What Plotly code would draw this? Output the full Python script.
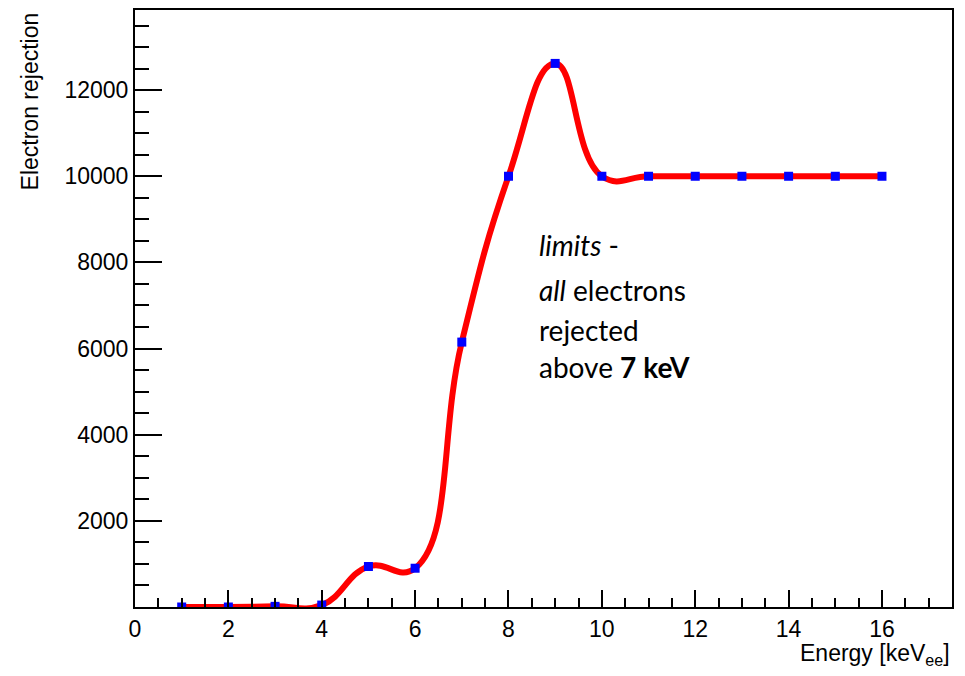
import plotly.graph_objects as go

energy = [1, 2, 3, 4, 5, 6, 7, 8, 9, 10, 11, 12, 13, 14, 15, 16]
rejection = [0, 0, 15, 45, 940, 900, 6150, 10000, 12620, 10000, 10000, 10000, 10000, 10000, 10000, 10000]

x_range = [0, 17.5]
y_range = [0, 13860]
x_ticks = [0, 2, 4, 6, 8, 10, 12, 14, 16]
y_ticks = [2000, 4000, 6000, 8000, 10000, 12000]

note_lines = ["<i>limits</i> -", "<i>all</i> electrons", "rejected", "above <b>7 keV</b>"]
note_y = [8400, 7370, 6430, 5580]

font_axis = "Liberation Sans, Arial, Helvetica, sans-serif"

fig = go.Figure()
fig.add_trace(go.Scatter(
    x=energy, y=rejection, mode="lines",
    line=dict(color="#ff0000", width=6, shape="spline", smoothing=1.3),
    showlegend=False, hoverinfo="skip"))
fig.add_trace(go.Scatter(
    x=energy, y=rejection, mode="markers",
    marker=dict(color="#0000ff", size=9, symbol="square"),
    showlegend=False))

fig.update_layout(
    width=965, height=676,
    margin=dict(l=135, r=13, t=8, b=69),
    paper_bgcolor="white", plot_bgcolor="white",
    font=dict(family=font_axis, size=23, color="black"),
)
fig.update_xaxes(
    range=x_range, tickvals=x_ticks, ticktext=[str(v) for v in x_ticks],
    ticks="inside", ticklen=17, tickwidth=1.5, tickcolor="black",
    minor=dict(dtick=0.5, tick0=0, ticks="inside", ticklen=9, tickwidth=1.5, tickcolor="black"),
    showline=True, linecolor="black", linewidth=2, mirror=True,
    showgrid=False, zeroline=False, tickfont=dict(size=23),
)
fig.update_yaxes(
    range=y_range, tickvals=y_ticks, ticktext=[str(v) for v in y_ticks],
    ticks="inside", ticklen=27, tickwidth=1.5, tickcolor="black",
    minor=dict(dtick=500, tick0=0, ticks="inside", ticklen=14, tickwidth=1.5, tickcolor="black"),
    showline=True, linecolor="black", linewidth=2, mirror=True,
    showgrid=False, zeroline=False, tickfont=dict(size=23),
)

fig.add_annotation(
    text="Electron rejection", xref="paper", yref="paper",
    x=-0.128, y=1.0, xanchor="center", yanchor="top", textangle=-90,
    showarrow=False, font=dict(size=23, family=font_axis))
fig.add_annotation(
    text="Energy [keV<sub>ee</sub>]", xref="paper", yref="paper",
    x=1.0, y=-0.052, xanchor="right", yanchor="top",
    showarrow=False, font=dict(size=23, family=font_axis))
for line, yv in zip(note_lines, note_y):
    fig.add_annotation(
        text=line, xref="x", yref="y", x=8.6, y=yv, xanchor="left", yanchor="middle",
        align="left", showarrow=False,
        font=dict(size=28, family="Lato, Open Sans, sans-serif", color="black"))

fig.write_html("out.html")
